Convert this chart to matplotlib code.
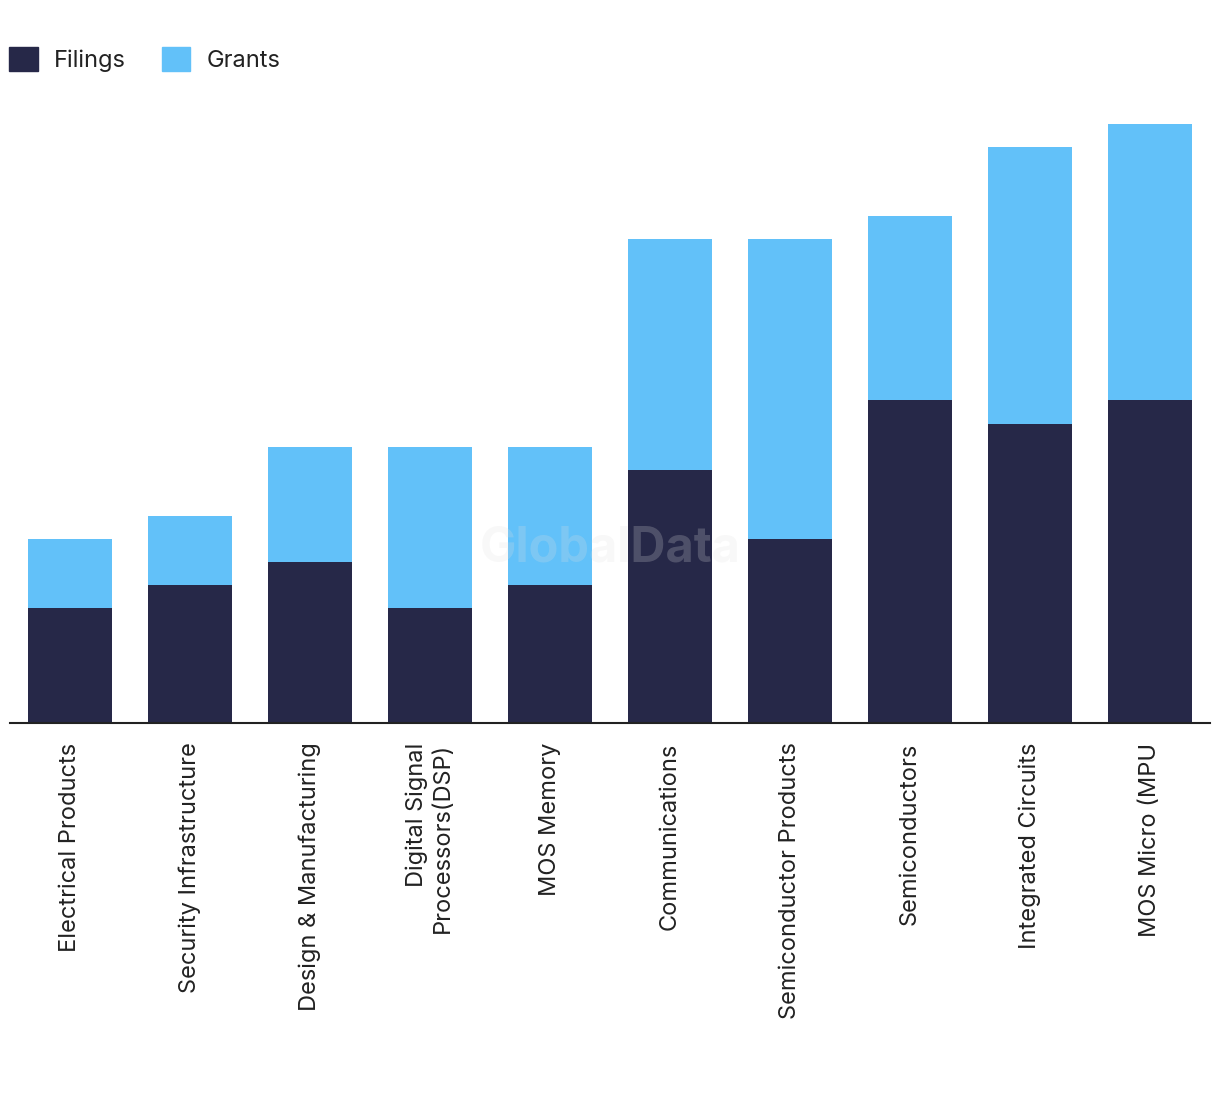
import matplotlib.pyplot as plt
import numpy as np
from matplotlib.patches import Patch

plt.rcParams['font.family'] = ['Inter', 'DejaVu Sans']

categories = ["Electrical Products", "Security Infrastructure", "Design & Manufacturing",
              "Digital Signal\nProcessors(DSP)", "MOS Memory", "Communications",
              "Semiconductor Products", "Semiconductors", "Integrated Circuits",
              "MOS Micro (MPU"]
filings = [5, 6, 7, 5, 6, 11, 8, 14, 13, 14]
grants = [3, 3, 5, 7, 6, 10, 13, 8, 12, 12]

dark = "#262848"
light = "#62C1F9"

fig = plt.figure(figsize=(12.2, 10.94), dpi=100)
ax = fig.add_axes([10 / 1220, 1 - 723 / 1094, 1200 / 1220, 599 / 1094])

x = np.arange(len(categories))
ax.bar(x, filings, width=0.7, color=dark, zorder=2)
ax.bar(x, grants, width=0.7, bottom=filings, color=light, zorder=2)

ax.set_xlim(-0.5, len(categories) - 0.5)
ax.set_ylim(0, 26)
ax.set_yticks([])
for s in ["top", "left", "right"]:
    ax.spines[s].set_visible(False)
ax.spines["bottom"].set_color("#222222")
ax.spines["bottom"].set_linewidth(1.5)

ax.set_xticks(x)
ax.set_xticklabels(categories, rotation=90, fontsize=17, color="#222222",
                   multialignment="right", linespacing=1.25)
ax.tick_params(axis="x", length=0, pad=14)

# faint watermark
fig.text(0.5, 1 - 548 / 1094, "GlobalData", fontsize=35, fontweight="bold",
         color="#e0e0e0", alpha=0.22, ha="center", va="center", zorder=5)

handles = [Patch(color=dark, label="Filings"), Patch(color=light, label="Grants")]
fig.legend(handles=handles, loc="upper left", bbox_to_anchor=(0.0, 0.966), ncol=2,
           frameon=False, fontsize=17, handlelength=1.2, handleheight=1.2,
           handletextpad=0.7, columnspacing=1.5, borderaxespad=0)
for t in fig.legends[0].get_texts():
    t.set_color("#222222")

fig.savefig("out.png", dpi=100)
